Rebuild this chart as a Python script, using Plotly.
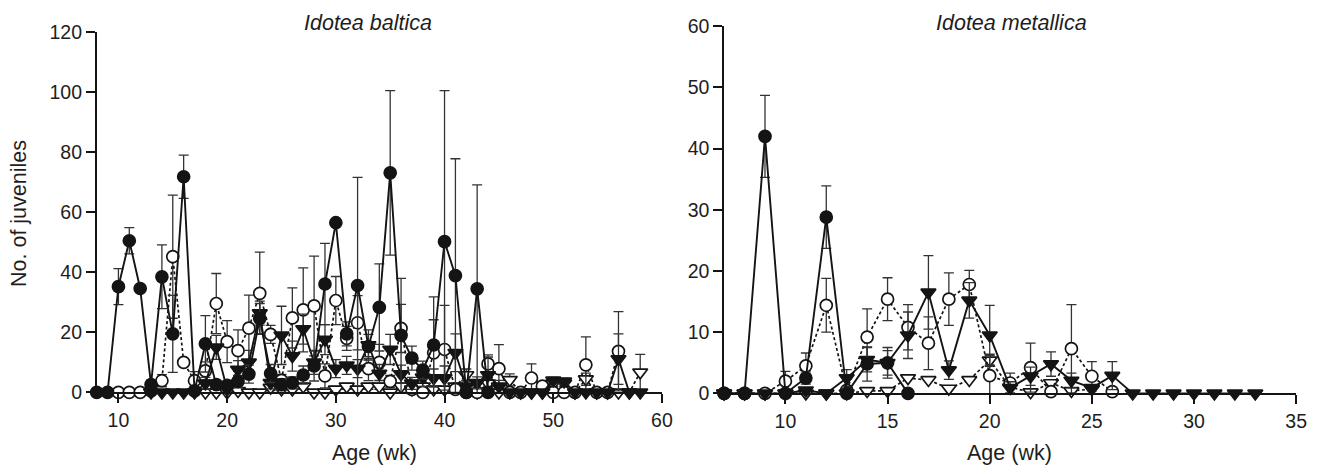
import plotly.graph_objects as go

# ---------------- Idotea baltica (left) ----------------
b_fc_wk = list(range(8, 45))
b_fc = [0, 0, 35.2, 50.5, 34.6, 2.6, 38.5, 19.5, 71.8, 0.5, 16.2, 2.6, 2.4, 3.7, 6.1, 24.6, 6.3, 2.6, 3.2, 5.8,
        8.8, 36.1, 56.5, 19.5, 35.6, 15.3, 28.3, 73.1, 19.0, 11.4, 7.4, 15.8, 50.2, 38.9, 0, 34.5, 0]
b_fc_err = [0, 0, 6, 4.4, 0, 1.5, 10.6, 12.8, 7.2, 0, 9.4, 1.5, 1, 2, 3, 5, 3, 2, 2, 3,
            5, 13.5, 0, 4, 36, 4, 14.5, 27.4, 19, 4, 3, 16, 50.3, 38.9, 0, 34.6, 0]

b_oc_wk = list(range(10, 57))
b_oc = [0, 0, 0, 0.5, 3.9, 45.2, 10, 3.9, 7.2, 29.6, 16.9, 13.9, 21.4, 33, 19.3, 4, 24.8, 27.5, 28.8, 5.5,
        30.6, 18, 23.2, 7.9, 10, 3.7, 21.3, 1, 0, 13.2, 14.3, 1, 0, 0, 9.5, 7.9, 0, 0, 4.8, 2.1,
        0, 0, 0, 9.2, 0, 0, 13.7]
b_oc_err = [0, 0, 0, 0, 2, 20.5, 0, 3, 3, 10, 7, 6.9, 11, 13.7, 3, 2, 10, 14, 16.6, 4,
            8, 4, 9, 4, 6, 2, 8, 1, 0, 11, 14.7, 1, 0, 0, 3, 8, 0, 0, 4.7, 0,
            0, 0, 0, 9.3, 0, 0, 13.2]

b_ft_wk = list(range(13, 59))
b_ft = [0, 0, 0, 0, 0, 3, 15, 1, 7.6, 10, 26.4, 3.2, 19, 12.1, 21.1, 10, 17.6, 7.9, 9, 7.9,
        15.8, 6.3, 14.3, 6.1, 3, 5, 4.8, 4.8, 13.2, 2, 3.2, 5.8, 2, 0, 0, 0, 0, 4, 3.7, 0,
        0, 0, 0, 11.1, 0, 0]
b_ft_err = [0, 0, 0, 0, 0, 2, 4, 1, 3, 4, 4, 2, 9.7, 5, 5, 4, 5, 3, 3, 3,
            5, 3, 5, 3, 2, 3, 3, 4, 6.3, 2, 2, 6, 2, 0, 0, 0, 0, 1, 1, 0,
            0, 0, 0, 8.4, 0, 0]

b_ot_wk = list(range(18, 59))
b_ot = [0, 0, 0, 0.5, 0, 0, 1.6, 1, 1, 2, 0, 0, 1, 2, 1, 2, 2, 0, 2, 1,
        2, 1, 1, 2, 5.8, 0, 3, 0, 4.2, 0, 0, 0, 3, 3, 0, 4.4, 0, 0, 0, 0, 6.7]
b_ot_err = [0, 0, 0, 0, 0, 0, 1, 1, 1, 1, 0, 0, 1, 1, 1, 1, 1, 0, 1, 1,
            1, 1, 1, 1, 2, 0, 2, 0, 2, 0, 0, 0, 1, 1, 0, 2, 0, 0, 0, 0, 6]

# ---------------- Idotea metallica (right) ----------------
m_fc_wk = list(range(7, 17))
m_fc = [0, 0, 42, 0, 2.5, 28.8, 0, 4.8, 5, 0]
m_fc_err = [0, 0, 6.7, 0, 1, 5.1, 0, 2.8, 2.5, 0]

m_oc_wk = list(range(7, 27))
m_oc = [0, 0, 0, 2, 4.5, 14.4, 0.5, 9.2, 15.4, 10.8, 8.2, 15.4, 17.8, 2.9, 1.7, 4.2, 0.3, 7.3, 2.8, 0.3]
m_oc_err = [0, 0, 0, 1.6, 2.1, 4.4, 0, 4.6, 3.5, 3.7, 4.3, 4.3, 2.3, 3.3, 1.6, 4, 0, 7.2, 2.4, 0]

m_ft_wk = list(range(7, 34))
m_ft = [0, 0, 0, 0, 0.5, 0, 2.5, 5.5, 5, 9.5, 16.5, 3.8, 15.2, 9.5, 0.9, 2.8, 4.8, 2.1, 0.9, 2.9,
        0, 0, 0, 0, 0, 0, 0]
m_ft_err = [0, 0, 0, 0, 0, 0, 1.4, 2, 2, 3.8, 6, 1.5, 2.9, 4.9, 1, 1.5, 2, 1.2, 0, 2.3,
            0, 0, 0, 0, 0, 0, 0]

m_ot_wk = list(range(7, 26))
m_ot = [0, 0, 0, 0, 0, 0, 0, 0.4, 0.4, 2.5, 2.2, 0.8, 2.2, 5.4, 1, 0.2, 1.7, 0.4, 0.7]
m_ot_err = [0, 0, 0, 0, 0, 0, 0, 0, 0, 0, 0, 0, 0, 1, 0, 0, 0, 0, 0]

INK = "#141414"
ERR = "#333333"
FONT = "Liberation Sans, Arial, Helvetica"


def add_series(fig, x, y, err, symbol, filled, xa, ya):
    fig.add_trace(go.Scatter(
        x=x, y=y, xaxis=xa, yaxis=ya, mode="lines+markers", cliponaxis=False,
        line=dict(color=INK, width=1.9 if filled else 1.7, dash="solid" if filled else "3px,2.5px"),
        marker=dict(symbol=symbol, size=12 if "circle" in symbol else 13,
                    color=INK if filled else "white", line=dict(color=INK, width=1.7)),
        error_y=dict(type="data", array=err, visible=True, color=ERR, thickness=1.3, width=5),
        showlegend=False, hoverinfo="skip"))


fig = go.Figure()
for xa, ya, data in [
    ("x", "y", [(b_ot_wk, b_ot, b_ot_err, "triangle-down", False),
                (b_oc_wk, b_oc, b_oc_err, "circle", False),
                (b_ft_wk, b_ft, b_ft_err, "triangle-down", True),
                (b_fc_wk, b_fc, b_fc_err, "circle", True)]),
    ("x2", "y2", [(m_ot_wk, m_ot, m_ot_err, "triangle-down", False),
                  (m_oc_wk, m_oc, m_oc_err, "circle", False),
                  (m_ft_wk, m_ft, m_ft_err, "triangle-down", True),
                  (m_fc_wk, m_fc, m_fc_err, "circle", True)])]:
    for x, y, e, s, f in data:
        add_series(fig, x, y, e, s, f, xa, ya)

W, H = 1324, 474
axis_common = dict(showline=True, linecolor=INK, linewidth=1.6, ticks="outside", ticklen=9,
                   tickwidth=1.6, tickcolor=INK, showgrid=False, zeroline=False,
                   tickfont=dict(family=FONT, size=19.5, color="#1e1e1e"))

fig.update_layout(
    width=W, height=H, margin=dict(l=0, r=0, t=0, b=0),
    paper_bgcolor="white", plot_bgcolor="white",
    xaxis=dict(domain=[97.5 / W, 667.5 / W], range=[8, 60], tickvals=[10, 20, 30, 40, 50, 60],
               anchor="y", **axis_common),
    yaxis=dict(domain=[(H - 400) / H, (H - 22) / H], range=[0, 120], tickvals=[0, 20, 40, 60, 80, 100, 120],
               anchor="x", **axis_common),
    xaxis2=dict(domain=[730.2 / W, 1307 / W], range=[7, 35], tickvals=[10, 15, 20, 25, 30, 35],
                anchor="y2", **axis_common),
    yaxis2=dict(domain=[(H - 401) / H, (H - 16) / H], range=[0, 60], tickvals=[0, 10, 20, 30, 40, 50, 60],
                anchor="x2", **axis_common),
)

font_lbl = dict(family=FONT, size=21.5, color="#1e1e1e")
ann = [
    dict(text="No. of juveniles", x=19 / W, y=(H - 212) / H, textangle=-90),
    dict(text="Age (wk)", x=378 / W, y=(H - 463) / H),
    dict(text="Age (wk)", x=1018 / W, y=(H - 463) / H),
    dict(text="<i>Idotea baltica</i>", x=371 / W, y=(H - 13) / H),
    dict(text="<i>Idotea metallica</i>", x=1020 / W, y=(H - 13) / H),
]
for a in ann:
    fig.add_annotation(xref="paper", yref="paper", showarrow=False, font=font_lbl,
                       xanchor="center", yanchor="middle", **a)

fig.write_html("out.html")
